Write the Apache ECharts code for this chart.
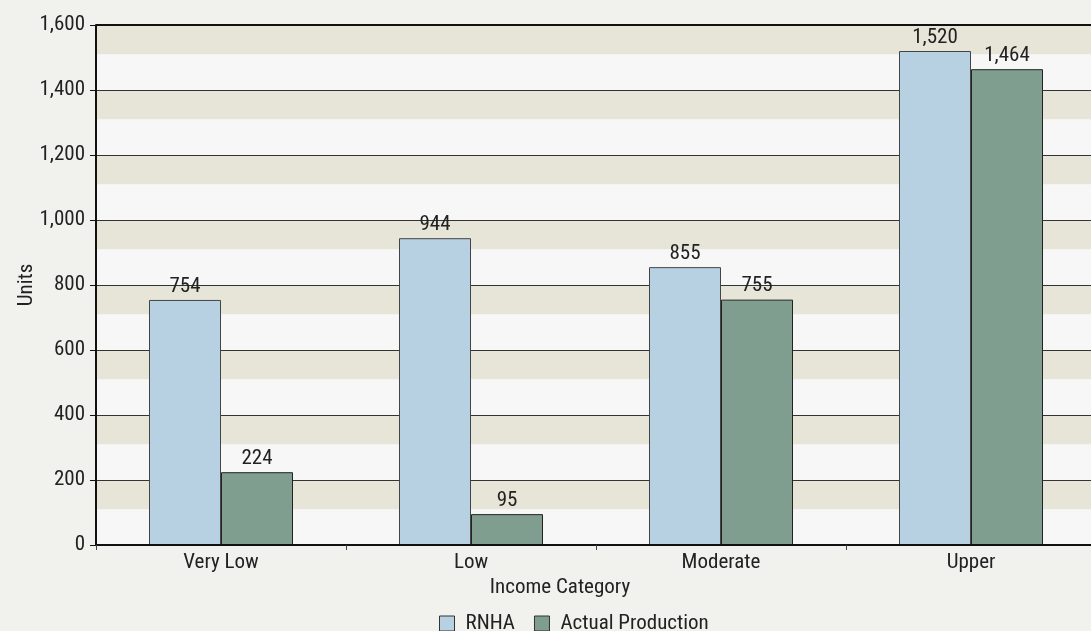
<!DOCTYPE html>
<html>
<head>
<meta charset="utf-8">
<script src="https://cdn.jsdelivr.net/npm/echarts@6/dist/echarts.min.js"></script>
<style>
  html, body { margin: 0; padding: 0; background: #f1f1ed; overflow: hidden; }
  #chart { width: 1091px; height: 631px; }
</style>
</head>
<body>
<div id="chart"></div>
<script>
// Units by income category
const categories = ['Very Low', 'Low', 'Moderate', 'Upper'];
const rnha = [754, 944, 855, 1520];
const actualProduction = [224, 95, 755, 1464];
const seriesNames = ['RNHA', 'Actual Production'];
const yTicks = [0, 200, 400, 600, 800, 1000, 1200, 1400, 1600];

const FONT = '"Roboto Condensed", sans-serif';
const FS = 21;
const TEXT = '#222';

// Beige stripe under each gridline
const bands = yTicks.filter(v => v > 0).map(v => [{ yAxis: v - 90 }, { yAxis: v }]);

const fmt = v => Number(v).toLocaleString('en-US');

const chart = echarts.init(document.getElementById('chart'), null, { renderer: 'canvas' });
chart.setOption({
  backgroundColor: '#f1f1ed',
  animation: false,
  textStyle: { fontFamily: FONT },
  grid: {
    left: 96, top: 25, width: 1000, bottom: 86,
    outerBoundsMode: 'none', containLabel: false,
    show: true, backgroundColor: '#f7f7f7', borderWidth: 0
  },
  legend: {
    data: seriesNames,
    left: 439, top: 613, padding: 0,
    itemWidth: 15, itemHeight: 15, itemGap: 19,
    icon: 'rect',
    itemStyle: { borderColor: '#333', borderWidth: 1 },
    textStyle: { fontFamily: FONT, fontSize: FS, color: TEXT, padding: [0, 0, 0, 6] }
  },
  graphic: [{
    type: 'text', x: 560, y: 577,
    style: { text: 'Income Category', font: FS + 'px ' + FONT, fill: TEXT, textAlign: 'center', textVerticalAlign: 'top' }
  }],
  xAxis: {
    type: 'category', data: categories, z: 3,
    axisLine: { lineStyle: { color: '#111', width: 2 } },
    axisTick: { show: true, length: 5, lineStyle: { color: '#444' } },
    axisLabel: { fontFamily: FONT, fontSize: FS, color: TEXT, margin: 7 }
  },
  yAxis: {
    type: 'value', min: 0, max: 1600, interval: 200, z: 1,
    name: 'Units', nameLocation: 'middle', nameGap: 59, nameRotate: 90,
    nameMoveOverlap: false,
    nameTextStyle: { fontFamily: FONT, fontSize: FS, color: TEXT },
    axisLine: { show: true, lineStyle: { color: '#111', width: 2 } },
    axisTick: { show: true, length: 6, lineStyle: { color: '#111' } },
    axisLabel: { fontFamily: FONT, fontSize: FS, color: TEXT, margin: 11, formatter: fmt },
    splitLine: { show: true, lineStyle: { color: '#333', width: 1 } }
  },
  series: [
    {
      type: 'line', data: [], z: 0, silent: true,
      markArea: { silent: true, z: 0, itemStyle: { color: '#e7e5d8' }, data: bands }
    },
    {
      name: seriesNames[0], type: 'bar', data: rnha, z: 2,
      barWidth: 72, barGap: '0%',
      itemStyle: { color: '#b7d1e3', borderColor: '#444', borderWidth: 1 },
      label: { show: true, position: 'top', distance: 3, fontFamily: FONT, fontSize: FS, color: TEXT, formatter: p => fmt(p.value) }
    },
    {
      name: seriesNames[1], type: 'bar', data: actualProduction, z: 2,
      barWidth: 72, barGap: '0%',
      itemStyle: { color: '#7f9e8f', borderColor: '#222', borderWidth: 1 },
      label: { show: true, position: 'top', distance: 3, fontFamily: FONT, fontSize: FS, color: TEXT, formatter: p => fmt(p.value) }
    },
    {
      // heavy top border at the axis maximum
      type: 'line', data: [], z: 3, silent: true,
      markLine: { silent: true, symbol: 'none', label: { show: false },
        lineStyle: { color: '#111', width: 2, type: 'solid' },
        data: [{ yAxis: yTicks[yTicks.length - 1] }] }
    }
  ]
});
</script>
</body>
</html>
